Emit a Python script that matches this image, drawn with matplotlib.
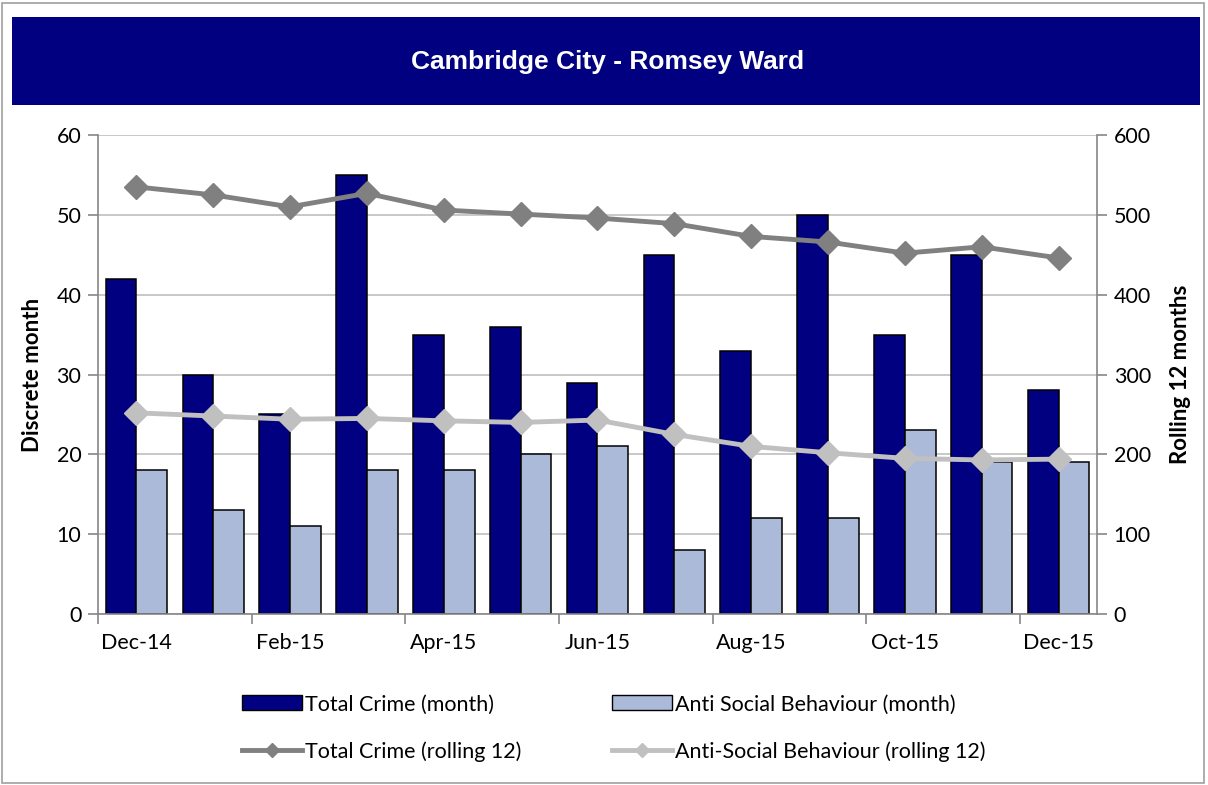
import numpy as np
import matplotlib.pyplot as plt
from matplotlib.patches import Rectangle, Patch
from matplotlib.lines import Line2D

plt.rcParams['font.family'] = ['Lato', 'DejaVu Sans']

# Data
months = ["Dec-14", "Jan-15", "Feb-15", "Mar-15", "Apr-15", "May-15", "Jun-15",
          "Jul-15", "Aug-15", "Sep-15", "Oct-15", "Nov-15", "Dec-15"]
total_crime = [42, 30, 25, 55, 35, 36, 29, 45, 33, 50, 35, 45, 28]
asb = [18, 13, 11, 18, 18, 20, 21, 8, 12, 12, 23, 19, 19]
total_rolling = [535, 525, 510, 527, 506, 501, 496, 489, 473, 466, 452, 460, 446]
asb_rolling = [252, 248, 244, 245, 242, 240, 243, 225, 210, 202, 195, 193, 194]

navy = "#000080"
light_blue = "#abbad8"
dark_grey = "#808080"
light_grey = "#c0c0c0"
axis_grey = "#868686"

fig = plt.figure(figsize=(12.08, 7.85), dpi=100)

# outer frame and title banner
fig.patches.append(Rectangle((0.002, 0.003), 0.995, 0.993, transform=fig.transFigure,
                             fill=False, edgecolor="#a0a0a0", linewidth=1.2))
fig.patches.append(Rectangle((0.0099, 0.866), 0.9834, 0.112, transform=fig.transFigure,
                             facecolor=navy, edgecolor="none"))
fig.text(0.503, 0.921, "Cambridge City - Romsey Ward", color="white", fontsize=19,
         fontweight="bold", family="Liberation Sans", ha="center", va="center")

ax = fig.add_axes([0.0811, 0.2178, 0.827, 0.6102])
x = np.arange(len(months))
w = 0.4
ax.bar(x - w / 2, total_crime, w, color=navy, edgecolor="black", linewidth=1.1, zorder=2)
ax.bar(x + w / 2, asb, w, color=light_blue, edgecolor="black", linewidth=1.1, zorder=2)

ax.set_xlim(-0.5, len(months) - 0.5)
ax.set_ylim(0, 60)
ax.set_yticks(np.arange(0, 61, 10))
ax.yaxis.grid(True, color="#bfbfbf", linewidth=1.2)
ax.set_axisbelow(True)
ax.set_xticks(np.arange(-0.5, len(months) - 1, 2))
ax.set_xticklabels([])
ax.set_xticks(x[::2], minor=True)
ax.set_xticklabels(months[::2], minor=True)
ax.tick_params(axis="x", which="major", length=7, color=axis_grey, width=1.2)
ax.tick_params(axis="x", which="minor", length=0, pad=14, labelsize=15.5)
ax.tick_params(axis="y", length=7, color=axis_grey, width=1.2, labelsize=15.5, pad=5)
ax.set_ylabel("Discrete month", fontsize=16, fontweight="bold", labelpad=10)
for s in ["left", "bottom"]:
    ax.spines[s].set_color(axis_grey)
    ax.spines[s].set_linewidth(1.2)
ax.spines["top"].set_visible(False)
ax.spines["right"].set_visible(False)

ax2 = ax.twinx()
ax2.plot(x, total_rolling, color=dark_grey, linewidth=3.5, marker="D", markersize=12, zorder=3)
ax2.plot(x, asb_rolling, color=light_grey, linewidth=3.5, marker="D", markersize=12, zorder=3)
ax2.set_ylim(0, 600)
ax2.set_yticks(np.arange(0, 601, 100))
ax2.tick_params(axis="y", length=7, color=axis_grey, width=1.2, labelsize=15.5, pad=5)
ax2.set_ylabel("Rolling 12 months", fontsize=16, fontweight="bold", labelpad=14)
ax2.spines["right"].set_color(axis_grey)
ax2.spines["right"].set_linewidth(1.2)
for s in ["top", "left", "bottom"]:
    ax2.spines[s].set_visible(False)

handles = [
    Patch(facecolor=navy, edgecolor="black"),
    Line2D([], [], color=dark_grey, linewidth=3.5, marker="D", markersize=7),
    Patch(facecolor=light_blue, edgecolor="black"),
    Line2D([], [], color=light_grey, linewidth=3.5, marker="D", markersize=7),
]
labels = ["Total Crime (month)", "Total Crime (rolling 12)",
          "Anti Social Behaviour (month)", "Anti-Social Behaviour (rolling 12)"]
fig.legend(handles, labels, loc="upper center", bbox_to_anchor=(0.508, 0.14), ncol=2,
           frameon=False, fontsize=15.5, handlelength=2.8, handleheight=0.7,
           handletextpad=0.15, columnspacing=4.2, labelspacing=1.25)

fig.savefig("out.png", dpi=100)
